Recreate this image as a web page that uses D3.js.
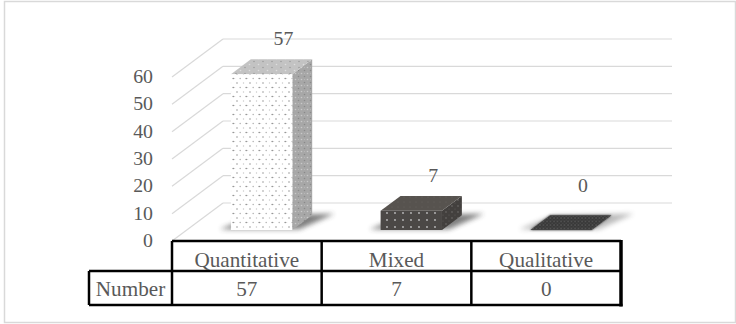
<!DOCTYPE html>
<html>
<head>
<meta charset="utf-8">
<script src="https://cdn.jsdelivr.net/npm/d3@7"></script>
<style>
  html, body { margin: 0; padding: 0; background: #fff; }
  svg { display: block; }
  svg text { font-family: "Liberation Serif", "Times New Roman", serif; }
</style>
</head>
<body>
<script>
// ---- data ----
const categories = ["Quantitative", "Mixed", "Qualitative"];
const counts = [57, 7, 0];
const seriesName = "Number";
const yTicks = [0, 10, 20, 30, 40, 50, 60];

// ---- layout ----
const W = 736, H = 324;
const TXT = "#595959";

const svg = d3.select("body").append("svg").attr("width", W).attr("height", H);
const defs = svg.append("defs");

// front plane scales; depth is drawn as an oblique offset toward the back wall
const x = d3.scaleBand().domain(categories).range([172, 621]);
const y = d3.scaleLinear().domain([0, 60]).range([241, 77]);
const DX = 51, DY = -38;        // offset of the back wall from the front plane
const D0 = 0.29, D1 = 0.68;     // depth slab occupied by the columns
const BAR_FRAC = 0.41;          // column width as a share of the band
const proj = (px, v, d) => [px + d * DX, y(v) + d * DY];

// ---- fill patterns ----
function dotPattern(id, bg, w, h, dots) {
  const p = defs.append("pattern").attr("id", id)
    .attr("patternUnits", "userSpaceOnUse").attr("width", w).attr("height", h);
  p.append("rect").attr("width", w).attr("height", h).attr("fill", bg);
  dots.forEach(([cx, cy, r, c]) =>
    p.append("circle").attr("cx", cx).attr("cy", cy).attr("r", r).attr("fill", c));
}
dotPattern("qFront", "#ffffff", 13, 9, [
  [3, 2, 0.8, "#9a9a9a"], [9.5, 2, 0.7, "#c9c9c9"],
  [6.2, 6.5, 0.75, "#b0b0b0"], [12.2, 6.5, 0.8, "#8e8e8e"], [0.6, 6.5, 0.6, "#d2d2d2"]]);
dotPattern("qTop", "#c3c3c3", 9, 6, [
  [2, 1.5, 0.8, "#9d9d9d"], [6.5, 4.5, 0.8, "#dedede"]]);
dotPattern("qSide", "#a7a7a7", 6, 6, [
  [1.5, 1.5, 0.8, "#c9c9c9"], [4.5, 4.5, 0.8, "#8a8a8a"], [4.5, 1.5, 0.5, "#bdbdbd"]]);
dotPattern("mFront", "#4b4846", 8, 7, [
  [3, 3, 0.9, "#bdbdbd"]]);
dotPattern("mTop", "#57534f", 6, 5, [
  [2, 2, 0.6, "#65615e"]]);
dotPattern("mSide", "#43403e", 6, 6, [
  [2, 2, 0.7, "#7a7876"], [5, 5, 0.6, "#5c5a58"]]);
dotPattern("zTop", "#383838", 3.5, 3.5, [
  [1, 1, 0.7, "#666666"], [2.75, 2.75, 0.6, "#555555"]]);

const fills = [
  { front: "url(#qFront)", top: "url(#qTop)", side: "url(#qSide)" },
  { front: "url(#mFront)", top: "url(#mTop)", side: "url(#mSide)" },
  { front: "url(#mFront)", top: "url(#zTop)", side: "url(#mSide)" }
];

defs.append("filter").attr("id", "soft").attr("x", "-30%").attr("y", "-60%")
  .attr("width", "160%").attr("height", "220%")
  .append("feGaussianBlur").attr("stdDeviation", 2.6);
defs.append("filter").attr("id", "edge").attr("x", "-20%").attr("y", "-50%")
  .attr("width", "140%").attr("height", "200%")
  .append("feGaussianBlur").attr("stdDeviation", 0.9);

// ---- chart frame ----
svg.append("rect").attr("x", 4.5).attr("y", 1.5).attr("width", 731).attr("height", 321)
  .attr("fill", "#fff").attr("stroke", "#d9d9d9").attr("stroke-width", 1.5);

// ---- walls: back-wall gridlines and side-wall diagonals ----
const grid = svg.append("g").attr("stroke", "#d9d9d9").attr("stroke-width", 1.2).attr("fill", "none");
const [fx0, fx1] = x.range();
grid.selectAll("line.back").data(yTicks).join("line").attr("class", "back")
  .attr("x1", d => proj(fx0, d, 1)[0]).attr("y1", d => proj(fx0, d, 1)[1])
  .attr("x2", d => proj(fx1, d, 1)[0]).attr("y2", d => proj(fx1, d, 1)[1]);
grid.selectAll("line.side").data(yTicks).join("line").attr("class", "side")
  .attr("x1", d => proj(fx0, d, 0)[0]).attr("y1", d => proj(fx0, d, 0)[1])
  .attr("x2", d => proj(fx0, d, 1)[0]).attr("y2", d => proj(fx0, d, 1)[1]);

// ---- value axis labels ----
svg.append("g").selectAll("text").data(yTicks).join("text")
  .attr("transform", d => `translate(153,${y(d) + 6}) scale(1.1,1)`)
  .attr("text-anchor", "end").attr("font-size", 18)
  .attr("fill", TXT).text(d => d);

// ---- columns ----
const bars = categories.map((c, i) => {
  const bw = x.bandwidth() * BAR_FRAC;
  const cx = x(c) + x.bandwidth() / 2;
  return { cat: c, v: counts[i], i, x0: cx - bw / 2, x1: cx + bw / 2, cx };
});
const poly = pts => pts.map(p => p.join(",")).join(" ");

// soft floor shadows
svg.append("g").selectAll("polygon").data(bars).join("polygon")
  .attr("points", b => poly([
    proj(b.x0 - 12, 0, D0 + 0.02), proj(b.x1 + 6, 0, D0 + 0.02),
    proj(b.x1 + 20, 0, D1 + 0.04), proj(b.x0 + 4, 0, D1)]))
  .attr("fill", "#3a3a3a").attr("opacity", b => b.v > 0 ? 0.65 : 0.35)
  .attr("filter", "url(#soft)");

const barG = svg.append("g").selectAll("g").data(bars).join("g");
barG.each(function (b) {
  const g = d3.select(this);
  const f = fills[b.i];
  if (b.v > 0) {
    g.append("polygon").attr("fill", f.side).attr("points", poly([
      proj(b.x1, b.v, D0), proj(b.x1, b.v, D1), proj(b.x1, 0, D1), proj(b.x1, 0, D0)]));
    g.append("polygon").attr("fill", f.top).attr("points", poly([
      proj(b.x0, b.v, D0), proj(b.x0, b.v, D1), proj(b.x1, b.v, D1), proj(b.x1, b.v, D0)]));
    g.append("polygon").attr("fill", f.front).attr("points", poly([
      proj(b.x0, b.v, D0), proj(b.x1, b.v, D0), proj(b.x1, 0, D0), proj(b.x0, 0, D0)]));
  } else {
    // a zero column shows only its footprint
    const pts = poly([proj(b.x0, 0, D0), proj(b.x0, 0, D1), proj(b.x1, 0, D1), proj(b.x1, 0, D0)]);
    g.append("polygon").attr("fill", "#3a3a3a").attr("points", pts).attr("filter", "url(#edge)");
    g.append("polygon").attr("fill", f.top).attr("points", pts).attr("opacity", 0.9);
  }
});

// ---- data labels above the columns ----
svg.append("g").selectAll("text").data(bars).join("text")
  .attr("transform", b => {
    const lx = proj(b.cx, b.v, D1)[0];
    const ly = proj(b.cx, b.v, 1)[1];
    const floorY = proj(b.cx, 0, 1)[1] - 11;
    return `translate(${lx + 2},${Math.min(ly - 2, floorY)}) scale(1.1,1)`;
  })
  .attr("text-anchor", "middle").attr("font-size", 18)
  .attr("fill", TXT).text(b => b.v);

// ---- data table ----
const rowTop = 241, rowMid = 271, rowBot = 305, labelLeft = 89;
const tbl = svg.append("g");
const lines = tbl.append("g").attr("stroke", "#000").attr("stroke-width", 2.5).attr("fill", "none");
lines.append("line").attr("x1", fx0).attr("x2", fx1).attr("y1", rowTop).attr("y2", rowTop);
lines.append("line").attr("x1", labelLeft).attr("x2", fx1).attr("y1", rowMid).attr("y2", rowMid);
lines.append("line").attr("x1", labelLeft).attr("x2", fx1 + 1.5).attr("y1", rowBot).attr("y2", rowBot);
lines.append("line").attr("x1", labelLeft).attr("x2", labelLeft).attr("y1", rowMid).attr("y2", rowBot);
lines.selectAll("line.col").data(categories.map(c => x(c))).join("line").attr("class", "col")
  .attr("x1", d => d).attr("x2", d => d).attr("y1", rowTop).attr("y2", rowBot);
lines.append("line").attr("x1", fx1).attr("x2", fx1).attr("y1", rowTop - 1).attr("y2", rowBot + 1.5)
  .attr("stroke-width", 3.5);

const cellText = (sel) => sel.attr("text-anchor", "middle")
  .attr("font-size", 20).attr("fill", TXT);
tbl.append("g").selectAll("text").data(categories).join("text")
  .attr("transform", c => `translate(${x(c) + x.bandwidth() / 2},267) scale(1.06,1)`)
  .call(cellText).text(c => c);
tbl.append("g").selectAll("text").data(bars).join("text")
  .attr("transform", b => `translate(${x(b.cat) + x.bandwidth() / 2},296) scale(1.06,1)`)
  .call(cellText).text(b => b.v);
tbl.append("text")
  .attr("transform", `translate(${(labelLeft + fx0) / 2},296) scale(1.06,1)`)
  .call(cellText).text(seriesName);
</script>
</body>
</html>
